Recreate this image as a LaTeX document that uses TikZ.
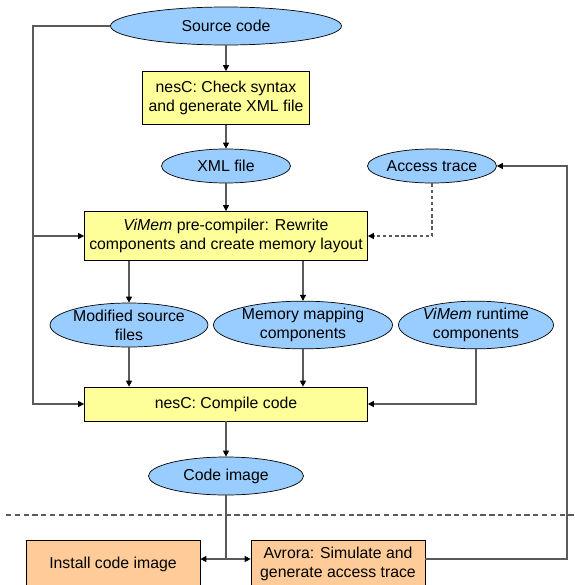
\documentclass[tikz,border=0pt]{standalone}
\usepackage{fontspec}
\setmainfont{Liberation Sans}
\usetikzlibrary{shapes.geometric, arrows.meta}
\definecolor{datablue}{RGB}{153, 204, 255}
\definecolor{stepyellow}{RGB}{255, 255, 153}
\definecolor{runorange}{RGB}{255, 204, 153}
\definecolor{linegray}{RGB}{90, 90, 90}
\tikzset{
  dataitem/.style={ellipse, draw, fill=datablue, inner sep=0pt, align=center},
  stepbox/.style={rectangle, draw, fill=stepyellow, inner sep=0pt, align=center},
  runbox/.style={rectangle, draw, fill=runorange, inner sep=0pt, align=center},
  flow/.style={draw=linegray, line width=0.6pt, -{Triangle[length=3.4pt, width=3.4pt, color=black]}},
  plain/.style={draw=linegray, line width=0.6pt}
}

\begin{document}
\begin{tikzpicture}[x=0.2mm, y=-0.2mm, font=\fontsize{9}{10.8}\selectfont]
  \useasboundingbox (0,0) rectangle (575,585);
  % ViMem tool chain
  \node[dataitem, minimum width=46.2mm, minimum height=7.6mm] (src) at (226,26) {Source code};
  \node[stepbox, minimum width=33.4mm, minimum height=10.6mm] (chk) at (226,98) {nesC: Check syntax\\and generate XML file};
  \node[dataitem, minimum width=25.8mm, minimum height=6.8mm] (xml) at (226,166) {XML file};
  \node[dataitem, minimum width=25.8mm, minimum height=6.8mm] (acc) at (432,166) {Access trace};
  \node[stepbox, minimum width=56.6mm, minimum height=9.8mm] (pre) at (226,236) {\textit{ViMem} pre-compiler: Rewrite\\components and create memory layout};
  \node[dataitem, minimum width=30.8mm, minimum height=8.8mm] (mod) at (129,325) {Modified source\\files};
  \node[dataitem, minimum width=35.8mm, minimum height=8.8mm] (map) at (303,325) {Memory mapping\\components};
  \node[dataitem, minimum width=31mm, minimum height=8.8mm] (rt) at (476,325) {\textit{ViMem} runtime\\components};
  \node[stepbox, minimum width=56.6mm, minimum height=6.8mm] (cmp) at (226,404) {nesC: Compile code};
  \node[dataitem, minimum width=31mm, minimum height=7.6mm] (img) at (226,476) {Code image};
  \node[runbox, minimum width=34.8mm, minimum height=9.6mm] (inst) at (113,564) {Install code image};
  \node[runbox, minimum width=34.8mm, minimum height=9.6mm] (avr) at (338,564) {Avrora: Simulate and\\generate access trace};

  \coordinate (bus) at (33,236);
  \coordinate (split) at (226,559);
  \coordinate (back) at (567,559);

  \draw[flow] (src) -- (chk);
  \draw[flow] (chk) -- (xml);
  \draw[flow] (xml) -- (pre);
  \draw[flow] (src.west) -| (bus) |- (cmp.west);
  \draw[flow] (bus) -- (pre.west);
  \draw[flow, dash pattern=on 2pt off 1.5pt] (acc.south) |- (pre.east);
  \draw[flow] (mod.north |- pre.south) -- (mod.north);
  \draw[flow] (map.north |- pre.south) -- (map.north);
  \draw[flow] (mod.south) -- (mod.south |- cmp.north);
  \draw[flow] (map.south) -- (map.south |- cmp.north);
  \draw[flow] (rt.south) |- (cmp.east);
  \draw[flow] (cmp) -- (img);
  \draw[plain] (img.south) -- (split);
  \draw[flow] (split) -- (split -| inst.east);
  \draw[flow] (split) -- (split -| avr.west);
  \draw[flow] (split -| avr.east) -- (back) |- (acc.east);

  \draw[plain, dash pattern=on 3pt off 2pt] (6,515) -- (575,515);
\end{tikzpicture}
\end{document}
